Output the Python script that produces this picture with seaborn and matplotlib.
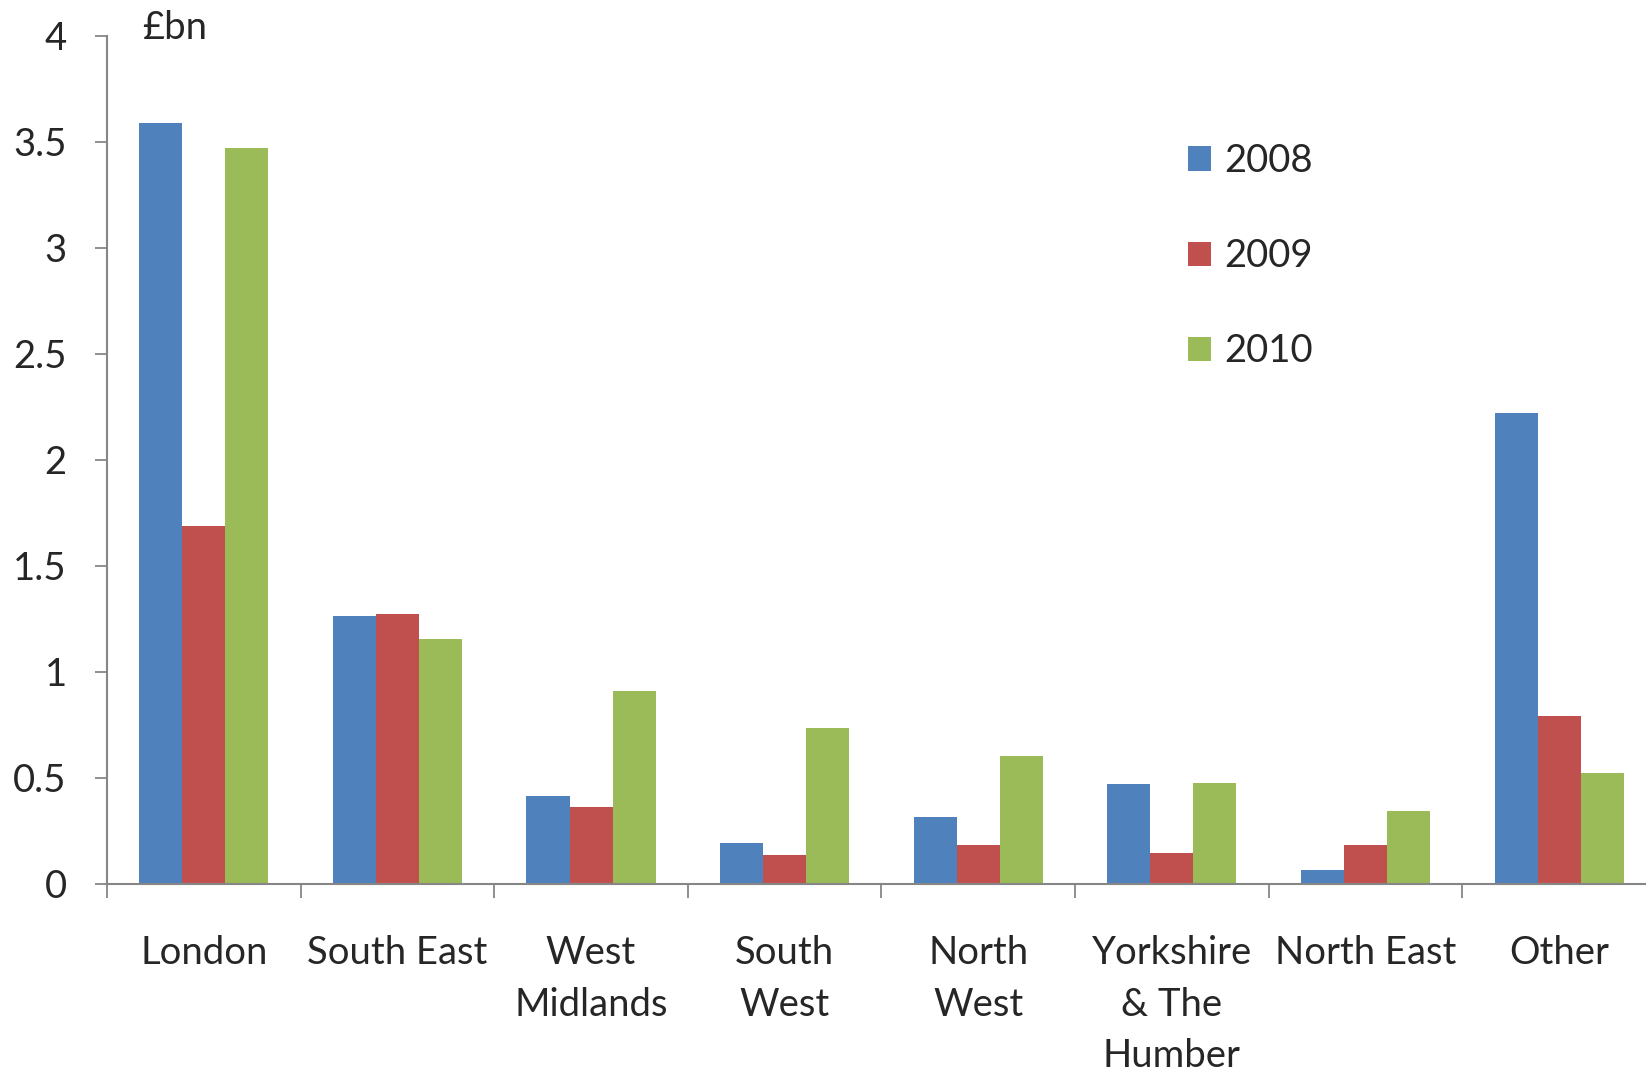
import numpy as np
import pandas as pd
import matplotlib
matplotlib.use("Agg")
import matplotlib.pyplot as plt
import seaborn as sns

categories = ["London", "South East", "West\nMidlands", "South\nWest", "North\nWest",
              "Yorkshire\n& The\nHumber", "North East", "Other"]
years = ["2008", "2009", "2010"]
v2008 = [3.59, 1.266, 0.415, 0.193, 0.318, 0.470, 0.066, 2.22]
v2009 = [1.69, 1.275, 0.365, 0.139, 0.186, 0.146, 0.183, 0.794]
v2010 = [3.47, 1.157, 0.909, 0.738, 0.606, 0.476, 0.343, 0.525]
colors = ["#4F81BD", "#C0504D", "#9BBB59"]

df = pd.DataFrame({
    "region": categories * 3,
    "year": [y for y in years for _ in categories],
    "value": v2008 + v2009 + v2010,
})

sns.set_style("white")
plt.rcParams["font.family"] = ["Lato", "DejaVu Sans"]

FS = 27.5

fig = plt.figure(figsize=(16.46, 10.73), dpi=100)
ax = fig.add_axes([107 / 1646, 1 - 884 / 1073, 1 - 107 / 1646, (884 - 36) / 1073])

sns.barplot(data=df, x="region", y="value", hue="year", order=categories,
            hue_order=years, palette=colors, width=0.667, saturation=1,
            edgecolor="none", ax=ax)

ax.set_ylim(0, 4)
ax.set_xlim(-0.5, 7.449)
ax.set_yticks(np.arange(0, 4.01, 0.5))
ax.set_yticklabels(["0", "0.5", "1", "1.5", "2", "2.5", "3", "3.5", "4"])
ax.set_xlabel("")
ax.set_ylabel("")

for s in ["top", "right"]:
    ax.spines[s].set_visible(False)
for s in ["left", "bottom"]:
    ax.spines[s].set_color("#868686")
    ax.spines[s].set_linewidth(1.5)

ax.tick_params(axis="y", which="major", length=9, width=1.3, color="#868686",
               labelsize=FS, pad=20, left=True)
ax.tick_params(axis="x", which="major", length=0, labelsize=FS, pad=37)
ax.set_xticks(np.arange(-0.5, 7.0, 1), minor=True)
ax.tick_params(axis="x", which="minor", length=10, width=1.3, color="#868686", bottom=True)
for lbl in ax.get_xticklabels():
    lbl.set_linespacing(1.53)
    lbl.set_verticalalignment("top")

fig.text(142 / 1646, 1 - 28 / 1073, "£bn", fontsize=FS, ha="left", va="center")

handles, labels = ax.get_legend_handles_labels()
leg = ax.legend(handles, labels, loc="upper left", frameon=False, fontsize=FS,
                handlelength=0.6, handleheight=0.6, handletextpad=0.35, labelspacing=1.55,
                borderaxespad=0, borderpad=0)
leg.set_bbox_to_anchor((1188 / 1646, 1 - 143 / 1073), transform=fig.transFigure)

fig.savefig("out.png", dpi=100)
